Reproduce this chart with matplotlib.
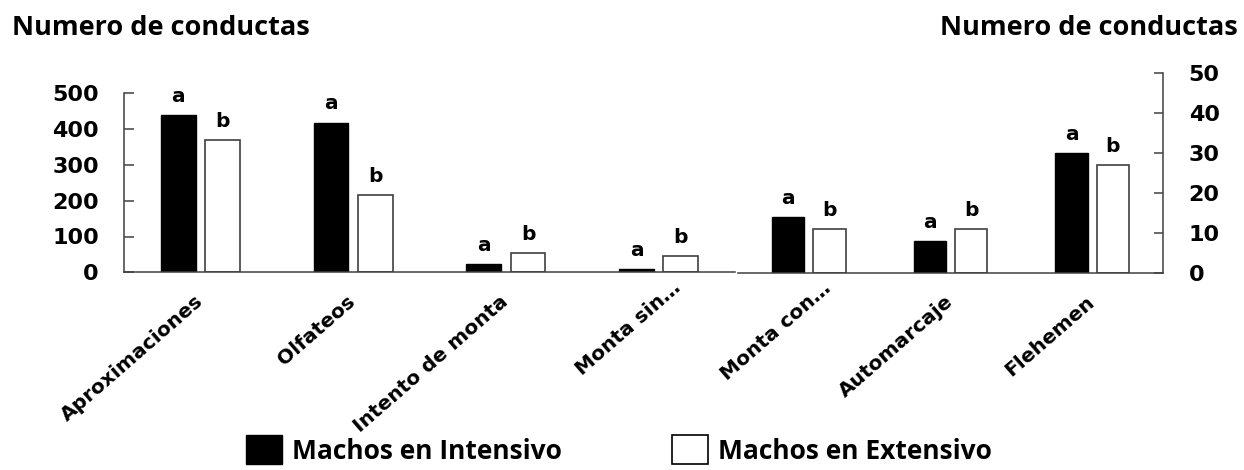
import matplotlib
matplotlib.use("Agg")
import matplotlib.pyplot as plt
import matplotlib.patches as mpatches
import matplotlib.transforms as mtransforms
import numpy as np

# Behaviour counts, left block (scale 0-500)
left_cats = ["Aproximaciones", "Olfateos", "Intento de monta", "Monta sin…"]
left_intensivo = [440, 418, 22, 9]
left_extensivo = [370, 216, 53, 46]
left_letters_int = ["a", "a", "a", "a"]
left_letters_ext = ["b", "b", "b", "b"]

# Behaviour counts, right block (scale 0-50)
right_cats = ["Monta con…", "Automarcaje", "Flehemen"]
right_intensivo = [14, 8, 30]
right_extensivo = [11, 11, 27]
right_letters_int = ["a", "a", "a"]
right_letters_ext = ["b", "b", "b"]

left_ticks = [0, 100, 200, 300, 400, 500]
right_ticks = [0, 10, 20, 30, 40, 50]

y_title = "Numero de conductas"
series_names = ["Machos en Intensivo", "Machos en Extensivo"]

AXIS_COLOR = "#404040"
BAR_W = 0.228
OFFS = 0.145
NUM_FONT = "DejaVu Sans"
TXT_FONT = "Open Sans"

W, H = 1244, 470
fig = plt.figure(figsize=(W / 100, H / 100), dpi=100)
fig.patch.set_facecolor("white")

ax1 = fig.add_axes([124 / W, 1 - 272.3 / H, 611 / W, 179 / H])
ax2 = fig.add_axes([738 / W, 1 - 272.7 / H, 425 / W, 200 / H])


def draw_block(ax, cats, v_int, v_ext, let_int, let_ext):
    x = np.arange(len(cats))
    b1 = ax.bar(x - OFFS, v_int, BAR_W, color="black", edgecolor="black", linewidth=1.0)
    b2 = ax.bar(x + OFFS, v_ext, BAR_W, color="white", edgecolor=AXIS_COLOR, linewidth=1.2)
    for bars, letters in ((b1, let_int), (b2, let_ext)):
        for rect, lab in zip(bars, letters):
            ax.annotate(lab, (rect.get_x() + rect.get_width() / 2, rect.get_height()),
                        xytext=(0, 9.5), textcoords="offset points",
                        ha="center", va="baseline", fontsize=14.5,
                        fontweight="bold", family=NUM_FONT)
    ax.set_xlim(-0.5, len(cats) - 0.5)
    ax.set_xticks(x)
    ax.set_xticklabels(cats, rotation=41, ha="right", va="center",
                       rotation_mode="anchor", fontsize=14.5,
                       fontweight="bold", family=NUM_FONT)
    ax.tick_params(axis="x", length=0, pad=19)
    # truncated labels sit a little further along their baseline
    for lbl in ax.get_xticklabels():
        if lbl.get_text().endswith("…"):
            lbl.set_transform(lbl.get_transform() + mtransforms.ScaledTranslation(
                14 / 72, 10 / 72, fig.dpi_scale_trans))
    for s in ax.spines.values():
        s.set_color(AXIS_COLOR)
        s.set_linewidth(1.1)
    ax.spines["top"].set_visible(False)


draw_block(ax1, left_cats, left_intensivo, left_extensivo, left_letters_int, left_letters_ext)
draw_block(ax2, right_cats, right_intensivo, right_extensivo, right_letters_int, right_letters_ext)

ax1.set_ylim(0, 500)
ax1.set_yticks(left_ticks)
ax1.spines["right"].set_visible(False)
ax1.tick_params(axis="y", direction="in", length=7, width=1.1, color=AXIS_COLOR, pad=18)
for t in ax1.get_yticklabels():
    t.set_fontsize(16)
    t.set_fontweight("bold")
    t.set_family(NUM_FONT)

ax2.set_ylim(0, 50)
ax2.set_yticks(right_ticks)
ax2.spines["left"].set_visible(False)
ax2.yaxis.tick_right()
ax2.tick_params(axis="y", direction="in", length=6.5, width=1.1, color=AXIS_COLOR, pad=18.5)
for t in ax2.get_yticklabels():
    t.set_fontsize(16)
    t.set_fontweight("bold")
    t.set_family(NUM_FONT)

# axis titles above each scale
fig.text(12 / W, 1 - 35 / H, y_title, ha="left", va="baseline",
         fontsize=19.5, fontweight="bold", family=TXT_FONT)
fig.text(1238 / W, 1 - 35 / H, y_title, ha="right", va="baseline",
         fontsize=19.5, fontweight="bold", family=TXT_FONT)

handles = [
    mpatches.Patch(facecolor="black", edgecolor="black", linewidth=1.0),
    mpatches.Patch(facecolor="white", edgecolor="black", linewidth=1.2),
]
fig.legend(handles, series_names, loc="center left",
           bbox_to_anchor=(246 / W, 1 - 450 / H), ncol=2, frameon=False,
           prop={"family": TXT_FONT, "weight": "bold", "size": 19},
           handlelength=1.35, handleheight=1.3, handletextpad=0.38,
           columnspacing=4.2, borderpad=0, borderaxespad=0)

fig.savefig("out.png", dpi=100, facecolor="white")
